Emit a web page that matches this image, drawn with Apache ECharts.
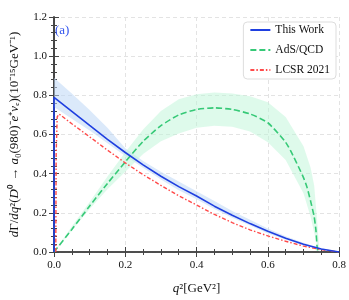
<!DOCTYPE html>
<html><head><meta charset="utf-8">
<script src="https://cdn.jsdelivr.net/npm/echarts@6/dist/echarts.min.js"></script>
<style>html,body{margin:0;padding:0;background:#fff}#c{width:349px;height:300px}</style>
</head><body><div id="c"></div>
<script>
// ---- data ----
const xTicks = [0, 0.2, 0.4, 0.6, 0.8];
const yTicks = [0, 0.2, 0.4, 0.6, 0.8, 1.0, 1.2];

const thisWorkQ = [0, 0, 0.05, 0.1, 0.15, 0.2, 0.25, 0.3, 0.35, 0.4, 0.45, 0.5, 0.55, 0.6, 0.65, 0.7, 0.75, 0.8];
const thisWorkV = [0, 0.79, 0.718, 0.646, 0.575, 0.508, 0.445, 0.387, 0.334, 0.286, 0.234, 0.188, 0.145, 0.106, 0.07, 0.04, 0.015, 0.0];

const twBandQ = [0, 0.05, 0.1, 0.15, 0.2, 0.25, 0.3, 0.35, 0.4, 0.45, 0.5, 0.55, 0.6, 0.65, 0.7, 0.75, 0.8];
const twBandUp = [0.89, 0.81, 0.725, 0.635, 0.53, 0.465, 0.41, 0.36, 0.31, 0.26, 0.21, 0.165, 0.12, 0.08, 0.047, 0.018, 0.0];
const twBandLo = [0.74, 0.68, 0.62, 0.555, 0.49, 0.43, 0.37, 0.315, 0.27, 0.22, 0.175, 0.135, 0.095, 0.062, 0.034, 0.012, 0.0];

const adsQ = [0, 0.05, 0.1, 0.15, 0.2, 0.25, 0.3, 0.35, 0.4, 0.45, 0.5, 0.55, 0.6, 0.65, 0.67, 0.7, 0.71, 0.72, 0.73, 0.735, 0.738, 0.74];
const adsV = [0, 0.115, 0.235, 0.35, 0.46, 0.565, 0.645, 0.70, 0.728, 0.736, 0.728, 0.705, 0.66, 0.56, 0.495, 0.38, 0.33, 0.26, 0.18, 0.11, 0.03, 0.0];

const adsBandQ = [0, 0.05, 0.1, 0.15, 0.2, 0.25, 0.3, 0.35, 0.4, 0.45, 0.5, 0.55, 0.6, 0.65, 0.7, 0.72, 0.73, 0.74, 0.745];
const adsBandUp = [0, 0.13, 0.255, 0.385, 0.51, 0.625, 0.72, 0.78, 0.805, 0.815, 0.81, 0.795, 0.765, 0.69, 0.54, 0.43, 0.34, 0.12, 0.0];
const adsBandLo = [0, 0.11, 0.22, 0.32, 0.41, 0.5, 0.565, 0.605, 0.635, 0.645, 0.64, 0.615, 0.56, 0.47, 0.30, 0.18, 0.10, 0.02, 0.0];

const lcsrQ = [0.005, 0.006, 0.009, 0.014, 0.05, 0.1, 0.15, 0.2, 0.25, 0.3, 0.35, 0.4, 0.45, 0.5, 0.55, 0.6, 0.65, 0.7, 0.75, 0.8];
const lcsrV = [0, 0.5, 0.69, 0.705, 0.655, 0.588, 0.52, 0.455, 0.395, 0.34, 0.287, 0.24, 0.192, 0.15, 0.113, 0.082, 0.055, 0.03, 0.012, 0.0];

const names = ['This Work', 'AdS/QCD', 'LCSR 2021'];

// ---- helpers ----
const zip = (a, b) => a.map((v, i) => [v, b[i]]);
function bandSeries(q, up, lo, color) {
  return {
    type: 'custom', silent: true, z: 1, clip: true,
    data: [0],
    renderItem: function (params, api) {
      const pts = [];
      for (let i = 0; i < q.length; i++) pts.push(api.coord([q[i], up[i]]));
      for (let i = q.length - 1; i >= 0; i--) pts.push(api.coord([q[i], lo[i]]));
      return { type: 'polygon', shape: { points: pts }, style: { fill: color } };
    }
  };
}
const serif = 'Liberation Serif';
const fmt = v => v.toFixed(1);
const axisCol = '#444';

const chart = echarts.init(document.getElementById('c'), null, { renderer: 'canvas' });
chart.setOption({
  animation: false,
  backgroundColor: '#fff',
  grid: { left: 47, right: 8, top: 17, bottom: 46 },
  legend: {
    data: names, right: 13, top: 22, orient: 'vertical',
    itemWidth: 20, itemHeight: 8, itemGap: 8,
    itemStyle: { opacity: 0, borderWidth: 0 },
    backgroundColor: '#fff', borderColor: '#ddd', borderWidth: 1, borderRadius: 4,
    padding: [2, 6, 3, 6],
    textStyle: { fontFamily: serif, fontSize: 11.5, color: '#111' }
  },
  xAxis: [{
    type: 'value', min: xTicks[0], max: xTicks[xTicks.length - 1], interval: 0.2,
    name: '{i|q}{n|²[GeV²]}', nameLocation: 'middle', nameGap: 30,
    nameTextStyle: { rich: { i: { fontFamily: serif, fontStyle: 'italic', fontSize: 13, color: '#111' }, n: { fontFamily: serif, fontSize: 13, color: '#111' } } },
    axisLine: { lineStyle: { color: axisCol, width: 1.5 } },
    axisTick: { inside: true, length: 5, lineStyle: { color: axisCol } },
    minorTick: { show: true, splitNumber: 4, length: 3, lineStyle: { color: axisCol } },
    splitLine: { show: true, lineStyle: { color: '#e3e3e3', type: [4, 3] } },
    axisLabel: { formatter: fmt, fontFamily: serif, fontSize: 11, color: '#111', margin: 8 }
  }, {
    type: 'value', position: 'top', min: 0, max: 0.8, interval: 0.2,
    axisLine: { show: true, lineStyle: { color: axisCol, width: 1.5 } },
    axisTick: { inside: true, length: 5, lineStyle: { color: axisCol } },
    minorTick: { show: true, splitNumber: 4, length: 3, lineStyle: { color: axisCol } },
    splitLine: { show: false }, axisLabel: { show: false }
  }],
  yAxis: [{
    type: 'value', min: yTicks[0], max: yTicks[yTicks.length - 1], interval: 0.2,
    name: '{i|d}{n|Γ/}{i|dq}{n|²(}{i|D}{n|⁰ → }{i|a}{n|₀(980)⁻}{i|e}{n|⁺}{i|ν}{n|ₑ)(10⁻¹⁵GeV⁻¹)}',
    nameLocation: 'middle', nameGap: 33,
    nameTextStyle: { rich: { i: { fontFamily: serif, fontStyle: 'italic', fontSize: 13, color: '#111' }, n: { fontFamily: serif, fontSize: 13, color: '#111' } } },
    axisLine: { show: true, lineStyle: { color: '#111', width: 1.5 } },
    axisTick: { inside: true, length: 5, lineStyle: { color: axisCol } },
    minorTick: { show: true, splitNumber: 5, length: 3, lineStyle: { color: axisCol } },
    splitLine: { show: true, lineStyle: { color: '#e3e3e3', type: [4, 3] } },
    axisLabel: { formatter: fmt, fontFamily: serif, fontSize: 11, color: '#111', margin: 7 }
  }, {
    type: 'value', position: 'right', min: 0, max: 1.2, interval: 0.2,
    axisLine: { show: true, lineStyle: { color: axisCol, width: 1.5 } },
    axisTick: { inside: true, length: 5, lineStyle: { color: axisCol } },
    minorTick: { show: true, splitNumber: 5, length: 3, lineStyle: { color: axisCol } },
    splitLine: { show: false }, axisLabel: { show: false }
  }],
  graphic: [{
    type: 'text', x: 55, y: 24, z: 100, zlevel: 1,
    style: { text: '(a)', fill: '#3355ee', font: '13px "Liberation Serif"' }
  }],
  series: [
    bandSeries(twBandQ, twBandUp, twBandLo, 'rgba(190,215,245,0.55)'),
    bandSeries(adsBandQ, adsBandUp, adsBandLo, 'rgba(190,245,215,0.5)'),
    {
      name: names[0], type: 'line', data: zip(thisWorkQ, thisWorkV), showSymbol: false, symbol: 'none', z: 5,
      lineStyle: { color: '#1f3fe0', width: 1.6 }, itemStyle: { color: '#1f3fe0' }
    },
    {
      name: names[1], type: 'line', data: zip(adsQ, adsV), showSymbol: false, symbol: 'none', smooth: 0.2, z: 4,
      lineStyle: { color: '#36c977', width: 1.6, type: [6, 3] }, itemStyle: { color: '#36c977' }
    },
    {
      name: names[2], type: 'line', data: zip(lcsrQ, lcsrV), showSymbol: false, symbol: 'none', z: 4,
      lineStyle: { color: '#ff4a4a', width: 1.4, type: [4, 2, 1.5, 2] }, itemStyle: { color: '#ff4a4a' }
    }
  ]
});
</script></body></html>
